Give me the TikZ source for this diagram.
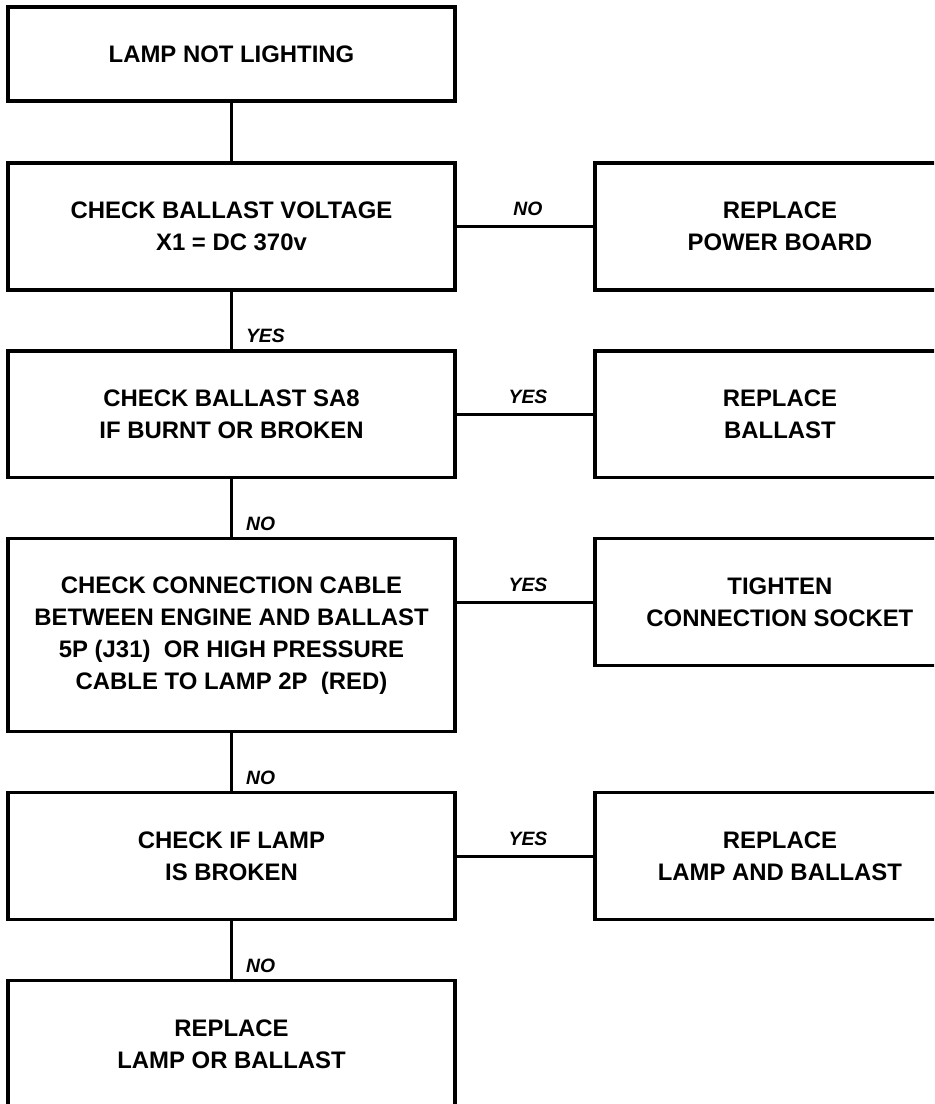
\documentclass[tikz,border=0pt]{standalone}
\usepackage{fontspec}
\setmainfont{Liberation Sans}
\usetikzlibrary{positioning}

\begin{document}
\begin{tikzpicture}[
    x=0.02cm, y=-0.02cm,
    node distance=1.22cm and 2.8cm,
    box/.style={rectangle, draw, line width=1.8pt, outer sep=0pt,
                minimum width=8.94cm, minimum height=2.54cm, align=center,
                font=\fontsize{13.6}{18.2}\selectfont\bfseries},
    fixbox/.style={box, minimum width=7.4cm},
    conn/.style={line width=1.8pt},
    lbl/.style={font=\fontsize{11}{13}\selectfont\bfseries\itshape, inner sep=0pt},
]
    \clip (0,0) rectangle (934,1104);

    % Checks (left column)
    \node[box, minimum height=1.88cm] (lamp) at (231.5,54) {LAMP NOT LIGHTING};
    \node[box, below=1.24cm of lamp] (volt) {CHECK BALLAST VOLTAGE\\X1 = DC 370v};
    \node[box, below=of volt] (sa8) {CHECK BALLAST SA8\\IF BURNT OR BROKEN};
    \node[box, below=of sa8, minimum height=3.86cm] (cable)
        {CHECK CONNECTION CABLE\\BETWEEN ENGINE AND BALLAST\\5P (J31)\ \ OR HIGH PRESSURE\\CABLE TO LAMP 2P\ \ (RED)};
    \node[box, below=of cable] (broken) {CHECK IF LAMP\\IS BROKEN};
    \node[box, below=of broken] (final) {REPLACE\\LAMP OR BALLAST};

    % Repairs (right column)
    \node[fixbox, right=of volt.east, anchor=west] (power) {REPLACE\\POWER BOARD};
    \node[fixbox, right=of sa8.east, anchor=west] (ball) {REPLACE\\BALLAST};
    \node[fixbox, right=of cable.north east, anchor=north west] (tight) {TIGHTEN\\CONNECTION SOCKET};
    \node[fixbox, right=of broken.east, anchor=west] (both) {REPLACE\\LAMP AND BALLAST};

    % Down the column
    \draw[conn] (lamp) -- (volt);
    \foreach \a/\b/\t in {volt/sa8/YES, sa8/cable/NO, cable/broken/NO, broken/final/NO} {
        \draw[conn] (\a) -- (\b)
            node[lbl, at end, anchor=base west, xshift=0.26cm, yshift=0.16cm] {\t};
    }

    % Across to the repairs
    \foreach \a/\b/\t in {volt/power/NO, sa8/ball/YES, cable/tight/YES, broken/both/YES} {
        \draw[conn] (\b.west -| \a.east) -- (\b.west)
            node[lbl, midway, anchor=base, xshift=0.06cm, yshift=0.22cm] {\t};
    }
\end{tikzpicture}
\end{document}
